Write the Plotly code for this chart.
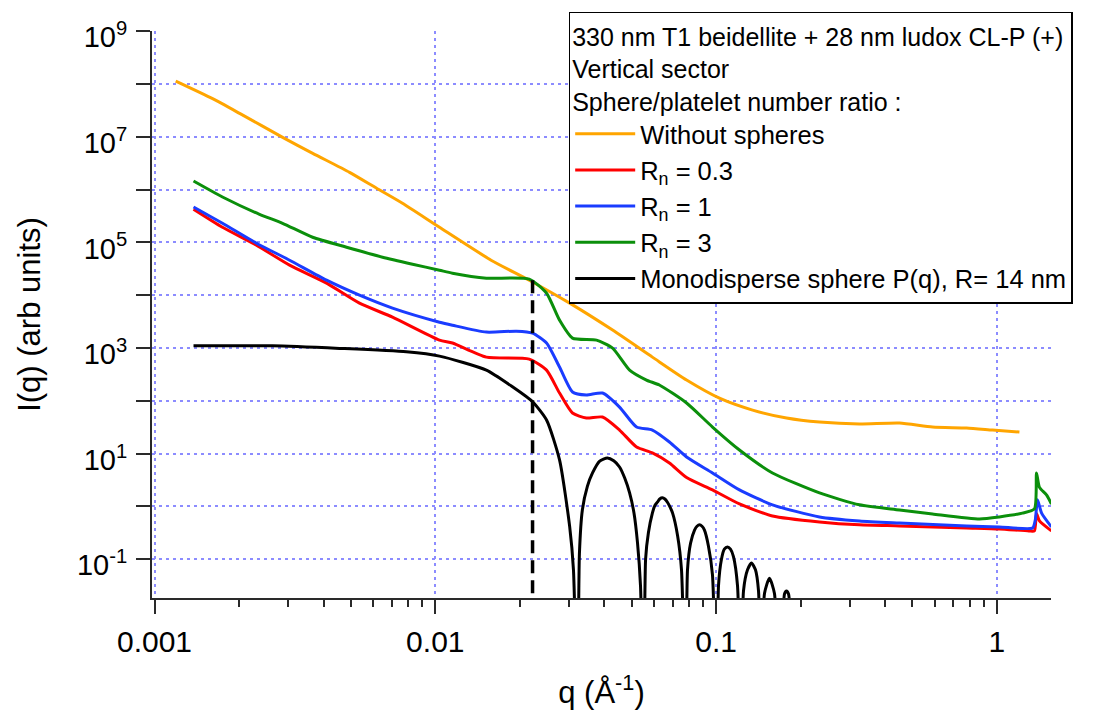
import plotly.graph_objects as go

# ---------------- data ----------------
q_orange = [0.00119, 0.00161, 0.00201, 0.00286, 0.00366, 0.00495, 0.00618, 0.00764,
            0.01035, 0.0158, 0.0216, 0.0301, 0.0428, 0.0593, 0.0785, 0.1028, 0.1349,
            0.1782, 0.2335, 0.324, 0.450, 0.590, 0.780, 0.965, 1.203]
I_orange = [1.13e8, 5.26e7, 2.77e7, 9.75e6, 4.85e6, 2.12e6, 1.06e6, 5.5e5,
            1.93e5, 4.6e4, 1.92e4, 7.06e3, 2.18e3, 671, 247, 112, 66.7,
            47.1, 39.5, 36.3, 37.9, 31.8, 30.5, 27.9, 25.6]

q_red = [0.001377, 0.001746, 0.002307, 0.003027, 0.0041, 0.00537, 0.00704, 0.01035,
         0.01151, 0.0152, 0.0216, 0.0249, 0.0277, 0.0308, 0.0345, 0.0394, 0.0453,
         0.0521, 0.0593, 0.0682, 0.0785, 0.0971, 0.1211, 0.1588, 0.2335, 0.324,
         0.450, 0.780, 1.02, 1.30, 1.36, 1.384, 1.418, 1.564]
I_red = [4.24e5, 1.93e5, 8.83e4, 3.70e4, 1.69e4, 7.06e3, 3.84e3, 1.41e3,
         1.24e3, 671, 615, 381, 140, 58.6, 47.1, 49.2, 27.9,
         13.3, 10.3, 6.64, 3.53, 2.05, 1.11, 0.659, 0.508, 0.447,
         0.427, 0.391, 0.374, 0.343, 0.343, 0.73, 0.53, 0.343]

q_blue = [0.001377, 0.001746, 0.002307, 0.003027, 0.0041, 0.00537, 0.00704, 0.01035,
          0.01151, 0.0152, 0.01945, 0.0222, 0.0249, 0.0277, 0.0308, 0.0345, 0.0394,
          0.0453, 0.0521, 0.0593, 0.0682, 0.0785, 0.0971, 0.1211, 0.1588, 0.2335,
          0.324, 0.450, 0.780, 1.02, 1.34, 1.37, 1.395, 1.443, 1.564]
I_blue = [4.68e5, 2.30e5, 9.64e4, 4.59e4, 1.92e4, 1.0e4, 5.69e3, 3.08e3,
          2.70e3, 2.0e3, 2.08e3, 1.91e3, 1.24e3, 435, 147, 129, 140,
          76, 31.8, 27.9, 16.6, 8.63, 4.30, 2.05, 1.07, 0.631,
          0.53, 0.485, 0.427, 0.408, 0.391, 0.552, 1.33, 0.746, 0.408]

q_green = [0.001377, 0.001746, 0.002366, 0.002858, 0.003656, 0.00483, 0.00649, 0.0083,
           0.01035, 0.01151, 0.0152, 0.0216, 0.0249, 0.0277, 0.0308, 0.0375, 0.0428,
           0.0492, 0.0565, 0.0628, 0.0785, 0.0971, 0.1211, 0.1588, 0.2335, 0.324,
           0.450, 0.590, 0.867, 1.02, 1.233, 1.361, 1.384, 1.418, 1.502, 1.564]
I_green = [1.45e6, 7.24e5, 3.40e5, 2.30e5, 1.25e5, 8.09e4, 5.24e4, 3.86e4,
           2.97e4, 2.61e4, 2.10e4, 2.01e4, 1.09e4, 3.37e3, 1.54e3, 1.41e3, 995,
           381, 247, 199, 90.6, 31.8, 11.7, 4.3, 1.80, 1.07,
           0.857, 0.72, 0.579, 0.631, 0.746, 0.90, 4.30, 2.29, 1.65, 1.11]

q_black = [0.001377, 0.00263, 0.00456, 0.00789, 0.01035, 0.0152, 0.01883, 0.0222,
           0.0249, 0.0277, 0.0301, 0.03105, 0.0321, 0.0326, 0.0334, 0.0348, 0.0363,
           0.0385, 0.0410, 0.0432, 0.0453, 0.0473, 0.0492, 0.0510, 0.0525, 0.0538,
           0.0552, 0.0561, 0.0574, 0.0593, 0.0606, 0.0618, 0.0630, 0.0644, 0.0657,
           0.0671, 0.0685, 0.0700, 0.0729, 0.0753, 0.0779, 0.0791, 0.0811, 0.0838,
           0.0855, 0.0873, 0.0891, 0.0909, 0.0939, 0.0971, 0.1005, 0.1020, 0.1045,
           0.1070, 0.1098, 0.1125, 0.1153, 0.1192, 0.1230, 0.1252, 0.1294, 0.1337,
           0.1381, 0.1416, 0.1455, 0.1487, 0.1549, 0.1614, 0.168, 0.1752, 0.1781,
           0.1811, 0.1905]
I_black = [1100, 1100, 982, 846, 701, 381, 184, 95.9,
           43.3, 7.57, 0.414, 0.063, 1e-4, 0.126, 0.857, 2.4, 4.30,
           7.2, 8.26, 7.3, 5.57, 3.4, 1.80, 0.75, 0.203, 0.0316,
           1e-4, 0.1, 0.316, 0.746, 1.05, 1.2, 1.38, 1.45, 1.38,
           1.2, 0.98, 0.746, 0.282, 0.063, 1e-4, 0.063, 0.2, 0.355,
           0.42, 0.447, 0.42, 0.355, 0.178, 0.05, 1e-4, 0.0316, 0.1,
           0.155, 0.17, 0.155, 0.112, 0.0316, 1e-4, 0.0251, 0.063, 0.085,
           0.063, 0.0251, 1e-4, 0.0224, 0.0437, 0.0224, 1e-4, 0.0219, 0.0251,
           0.0219, 1e-4]

q_marker = [0.0222, 0.0222]
I_marker = [1.92e4, 1e-3]

legend_title = ["330 nm T1 beidellite + 28 nm ludox CL-P (+)",
                "Vertical sector",
                "Sphere/platelet number ratio :"]
names = ["Without spheres", "R<sub>n</sub> = 0.3", "R<sub>n</sub> = 1",
         "R<sub>n</sub> = 3", "Monodisperse sphere P(q), R= 14 nm"]

x_tickvals = [0.001, 0.01, 0.1, 1]
x_ticktext = ["0.001", "0.01", "0.1", "1"]
x_minor = [m * d for d in (0.001, 0.01, 0.1) for m in range(2, 10)]
y_major_exps = [-1, 1, 3, 5, 7, 9]
y_tickvals = [10.0 ** e for e in y_major_exps]
y_ticktext = ["10<sup>%d</sup>" % e for e in y_major_exps]
y_minor = [10.0 ** e for e in (0, 2, 4, 6, 8)]

# ---------------- figure ----------------
fig = go.Figure()
series = [(q_orange, I_orange, "#FFA500"), (q_red, I_red, "#FF0000"),
          (q_blue, I_blue, "#1A3CFF"), (q_green, I_green, "#0B8F0B"),
          (q_black, I_black, "#000000")]
for (qq, ii, col), nm in zip(series, names):
    fig.add_trace(go.Scatter(x=qq, y=ii, mode="lines", name=nm,
                             line=dict(color=col, width=3, shape="spline", smoothing=0.6)))
fig.add_trace(go.Scatter(x=q_marker, y=I_marker, mode="lines", showlegend=False,
                         line=dict(color="black", width=3.5, dash="13px,7px")))

axis_col = "#2a2a2a"
grid_col = "#8C8CFF"
grid_dash = "3px,4px"
fig.update_layout(
    width=1096, height=710,
    margin=dict(l=152, r=45, t=31, b=112, autoexpand=False),
    paper_bgcolor="white", plot_bgcolor="white",
    font=dict(family="Liberation Sans, Arial, sans-serif", color="black"),
    legend=dict(
        x=0.4635, y=1.034, xanchor="left", yanchor="top",
        bgcolor="white", bordercolor="black", borderwidth=1.5,
        font=dict(size=25.5, color="black"),
        title=dict(text="<br>".join(legend_title), font=dict(size=25), side="top"),
        itemwidth=60, tracegroupgap=0,
    ),
    xaxis=dict(
        type="log", range=[-3.0089, 0.1927],
        showline=True, linecolor=axis_col, linewidth=2, mirror=False,
        ticks="outside", ticklen=14, tickwidth=2, tickcolor=axis_col,
        tickmode="array", tickvals=x_tickvals, ticktext=x_ticktext,
        tickfont=dict(size=30), ticklabelstandoff=2,
        showgrid=True, gridcolor=grid_col, gridwidth=1.5, griddash=grid_dash,
        minor=dict(tickvals=x_minor, ticks="outside", ticklen=7, tickwidth=2,
                   tickcolor=axis_col, showgrid=False),
        zeroline=False,
        title=dict(text="q (Å<sup>-1</sup>)", font=dict(size=31), standoff=27),
    ),
    yaxis=dict(
        type="log", range=[-1.735, 9.003],
        showline=True, linecolor=axis_col, linewidth=2, mirror=False,
        ticks="outside", ticklen=14, tickwidth=2, tickcolor=axis_col,
        tickmode="array", tickvals=y_tickvals, ticktext=y_ticktext,
        tickfont=dict(size=29), ticklabelstandoff=3, ticklabelshift=6,
        showgrid=True, gridcolor=grid_col, gridwidth=1.5, griddash=grid_dash,
        minor=dict(tickvals=y_minor, ticks="outside", ticklen=14, tickwidth=2,
                   tickcolor=axis_col, showgrid=True, gridcolor=grid_col,
                   gridwidth=1.5, griddash=grid_dash),
        zeroline=False,
        title=dict(text="I(q) (arb units)", font=dict(size=31), standoff=27),
    ),
)

fig.write_html("out.html", config={"displayModeBar": False},
               post_script="document.body.style.margin='0px';")
